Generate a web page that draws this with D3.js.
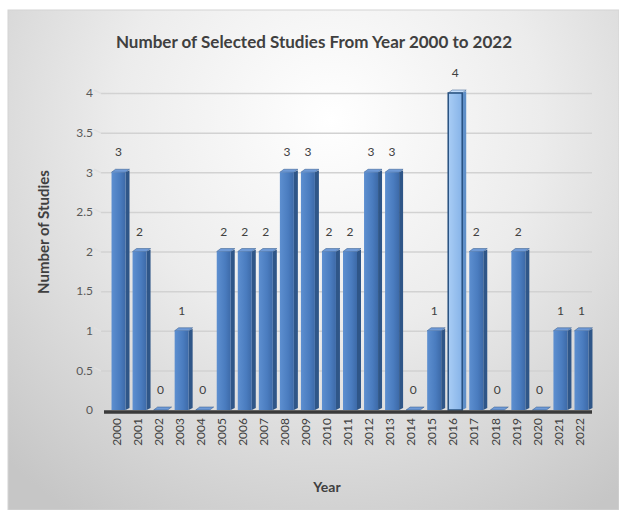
<!DOCTYPE html>
<html>
<head>
<meta charset="utf-8">
<script src="https://cdn.jsdelivr.net/npm/d3@7"></script>
<style>
  body { margin: 0; background: #ffffff; }
  text { font-family: Lato, "Noto Sans", sans-serif; }
</style>
</head>
<body>
<div id="chart"></div>
<script>
// Chart data
var years = ['2000','2001','2002','2003','2004','2005','2006','2007','2008','2009','2010','2011',
             '2012','2013','2014','2015','2016','2017','2018','2019','2020','2021','2022'];
var studies = [3, 2, 0, 1, 0, 2, 2, 2, 3, 3, 2, 2, 3, 3, 0, 1, 4, 2, 0, 2, 0, 1, 1];
var yTicks = [0, 0.5, 1, 1.5, 2, 2.5, 3, 3.5, 4];
var highlightYear = '2016';

var width = 619, height = 510;

var svg = d3.select('#chart').append('svg')
    .attr('width', width)
    .attr('height', height);

var defs = svg.append('defs');

// background gradient, light at the top centre, gray at the edges
var bg = defs.append('radialGradient')
    .attr('id', 'bg')
    .attr('gradientUnits', 'userSpaceOnUse')
    .attr('cx', 330).attr('cy', 120).attr('r', 470);
bg.append('stop').attr('offset', '0%').attr('stop-color', '#ffffff');
bg.append('stop').attr('offset', '45%').attr('stop-color', '#ececec');
bg.append('stop').attr('offset', '100%').attr('stop-color', '#c6c6c6');

var front = defs.append('linearGradient').attr('id', 'front');
front.append('stop').attr('offset', '0%').attr('stop-color', '#5d8fd0');
front.append('stop').attr('offset', '60%').attr('stop-color', '#4a7cbf');
front.append('stop').attr('offset', '100%').attr('stop-color', '#3d6aa8');

var frontHi = defs.append('linearGradient').attr('id', 'frontHi');
frontHi.append('stop').attr('offset', '0%').attr('stop-color', '#a9cdf5');
frontHi.append('stop').attr('offset', '100%').attr('stop-color', '#86b3e8');

svg.append('rect')
    .attr('x', 8).attr('y', 10)
    .attr('width', width - 8).attr('height', height - 10)
    .attr('fill', 'url(#bg)')
    .attr('stroke', '#d4d4d4');

// scales
var xScale = d3.scaleBand()
    .domain(years)
    .range([106, 590]);

var yScale = d3.scaleLinear()
    .domain([0, 4])
    .range([410, 93]);

// gridlines
svg.append('g').selectAll('line')
    .data(yTicks.filter(function(d) { return d > 0; }))
    .enter().append('line')
    .attr('x1', 101).attr('x2', 592)
    .attr('y1', function(d) { return yScale(d) + 0.5; })
    .attr('y2', function(d) { return yScale(d) + 0.5; })
    .attr('stroke', '#d2d2d2')
    .attr('stroke-width', 1.5);

svg.append('g').selectAll('line')
    .data(yTicks.filter(function(d) { return d > 0; }))
    .enter().append('line')
    .attr('x1', 94).attr('x2', 101)
    .attr('y1', function(d) { return yScale(d) - 3; })
    .attr('y2', function(d) { return yScale(d) + 0.5; })
    .attr('stroke', '#e0e0e0')
    .attr('stroke-width', 1.5);

// y axis tick labels
var yAxis = d3.axisLeft(yScale)
    .tickValues(yTicks)
    .tickSize(0)
    .tickPadding(0)
    .tickFormat(d3.format('~g'));

svg.append('g')
    .attr('transform', 'translate(93,0)')
    .call(yAxis)
    .call(function(g) { g.select('.domain').remove(); })
    .selectAll('text')
    .attr('font-size', 12)
    .attr('fill', '#595959')
    .style('font-family', 'Lato, "Noto Sans", sans-serif');

// bars drawn as small boxes
var frontW = 14, sideW = 4, depth = 3;

var bars = svg.append('g').selectAll('g')
    .data(studies)
    .enter().append('g')
    .attr('transform', function(d, i) {
        return 'translate(' + (xScale(years[i]) + xScale.bandwidth() / 2 - 5) + ',0)';
    });

bars.append('polygon')
    .attr('points', function(d) {
        var top = yScale(d), bottom = yScale(0);
        return [[frontW, top], [frontW + sideW, top - depth + 1], [frontW + sideW, bottom - depth + 1], [frontW, bottom]].join(' ');
    })
    .attr('fill', function(d, i) { return years[i] == highlightYear ? '#5f8fc8' : '#2f5688'; });

bars.append('polygon')
    .attr('points', function(d) {
        var top = yScale(d);
        return [[0, top], [sideW, top - depth], [frontW + sideW, top - depth], [frontW, top]].join(' ');
    })
    .attr('fill', function(d, i) { return years[i] == highlightYear ? '#c6defa' : '#6f9ad6'; })
    .attr('stroke', '#2f5688')
    .attr('stroke-width', 0.5);

bars.append('rect')
    .attr('x', 0)
    .attr('y', function(d) { return yScale(d); })
    .attr('width', frontW)
    .attr('height', function(d) { return yScale(0) - yScale(d); })
    .attr('fill', function(d, i) { return years[i] == highlightYear ? 'url(#frontHi)' : 'url(#front)'; })
    .attr('stroke', function(d, i) { return years[i] == highlightYear ? '#27507f' : 'none'; })
    .attr('stroke-width', 1.5);

// value labels
bars.append('text')
    .attr('x', frontW / 2)
    .attr('y', function(d) { return yScale(d) - 16; })
    .attr('text-anchor', 'middle')
    .attr('font-size', 12)
    .attr('fill', '#404040')
    .text(function(d) { return d; });

// floor line
svg.append('line')
    .attr('x1', 104).attr('x2', 592)
    .attr('y1', 412).attr('y2', 412)
    .attr('stroke', '#3a3a3a')
    .attr('stroke-width', 3.5);

// x axis labels, rotated
var xAxis = d3.axisBottom(xScale).tickSize(0).tickPadding(0);

svg.append('g')
    .attr('transform', 'translate(0,418)')
    .call(xAxis)
    .call(function(g) { g.select('.domain').remove(); })
    .selectAll('text')
    .attr('transform', 'rotate(-90)')
    .attr('text-anchor', 'end')
    .attr('x', 0)
    .attr('y', 0)
    .attr('dy', '0.35em')
    .attr('font-size', 12)
    .attr('fill', '#404040')
    .style('font-family', 'Lato, "Noto Sans", sans-serif');

// titles
svg.append('text')
    .attr('x', 314).attr('y', 48)
    .attr('text-anchor', 'middle')
    .attr('font-size', 17)
    .attr('font-weight', 'bold')
    .attr('fill', '#404040')
    .text('Number of Selected Studies From Year 2000 to 2022');

svg.append('text')
    .attr('x', 327).attr('y', 492)
    .attr('text-anchor', 'middle')
    .attr('font-size', 14)
    .attr('font-weight', 'bold')
    .attr('fill', '#404040')
    .text('Year');

svg.append('text')
    .attr('transform', 'translate(49,232) rotate(-90)')
    .attr('text-anchor', 'middle')
    .attr('font-size', 15)
    .attr('font-weight', 'bold')
    .attr('fill', '#404040')
    .text('Number of Studies');
</script>
</body>
</html>
